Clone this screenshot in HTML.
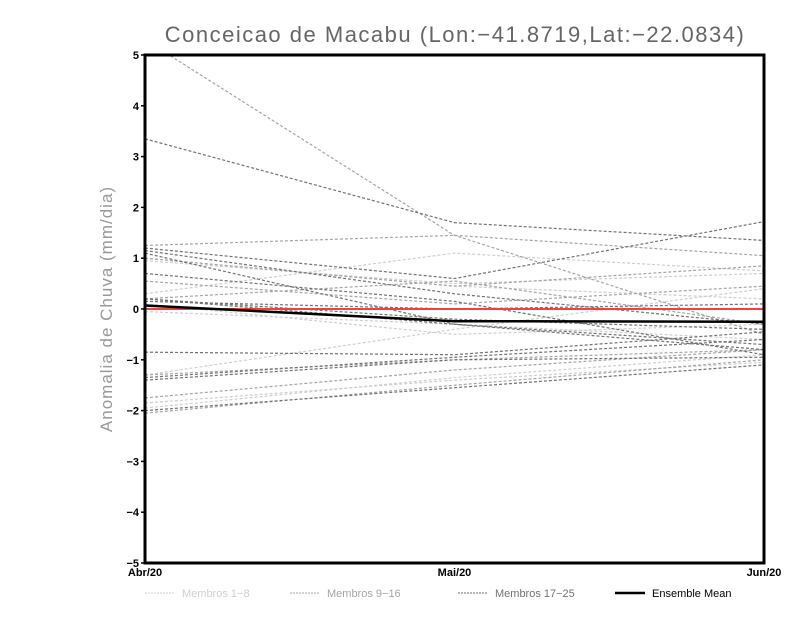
<!DOCTYPE html>
<html><head><meta charset="utf-8"><style>
body{margin:0;background:#fff;width:800px;height:618px;overflow:hidden}
svg{font-family:"Liberation Sans",sans-serif}
</style></head><body>
<svg id="c" width="800" height="618">
<text x="455" y="42" text-anchor="middle" font-size="22" fill="#666" letter-spacing="1.5">Conceicao de Macabu (Lon:−41.8719,Lat:−22.0834)</text>
<text transform="translate(112,309) rotate(-90)" text-anchor="middle" font-size="17" fill="#999" letter-spacing="1">Anomalia de Chuva (mm/dia)</text>
<g id="plot"></g>
</svg>
<script>
const categories=["Abr/20","Mai/20","Jun/20"];
const yTicks=[5,4,3,2,1,0,-1,-2,-3,-4,-5];
const membersLight=[[0.95,0.5,0.7],[0.3,1.1,0.75],[0.1,-0.5,-0.3],[-1.3,-0.4,0.4],[-1.95,-1.35,-0.9],[1.0,0.45,0.2],[-1.85,-1.4,-1.05],[-0.05,-0.3,-0.6]];
const membersMid=[[5.3,1.45,-0.5],[1.25,1.45,1.05],[0.55,0.1,0.45],[-1.75,-1.2,-0.8],[-2.05,-1.5,-1.0],[0.2,0.55,-0.3],[-1.3,-1.0,-0.8],[1.0,0.45,0.85]];
const membersDark=[[3.35,1.7,1.35],[1.2,0.6,1.72],[1.15,0.3,-0.3],[1.1,-0.3,-0.8],[0.7,0.15,-0.9],[0.2,-0.2,-0.4],[0.15,0.0,0.1],[-0.85,-0.9,-0.45],[-1.35,-0.95,-0.6],[-1.4,-1.0,-0.95],[-2.0,-1.55,-1.1],[0.2,-0.3,-0.7]];
const ensembleMean=[0.07,-0.24,-0.25];
const X0=145,X1=764,Y0=55,Y1=563;
const xs=i=>X0+(X1-X0)*i/(categories.length-1);
const ys=v=>Y0+(5-v)*(Y1-Y0)/10;
const NS="http://www.w3.org/2000/svg",g=document.getElementById('plot');
function mk(t,a){const e=document.createElementNS(NS,t);for(const k in a)e.setAttribute(k,a[k]);g.appendChild(e);return e;}
const clip=mk('clipPath',{id:'cp'});const r=document.createElementNS(NS,'rect');r.setAttribute('x',X0);r.setAttribute('y',Y0);r.setAttribute('width',X1-X0);r.setAttribute('height',Y1-Y0);clip.appendChild(r);
function series(arr,color,name){arr.forEach((s,j)=>{const p=mk('polyline',{points:s.map((v,i)=>xs(i)+','+ys(v)).join(' '),fill:'none',stroke:color,'stroke-width':1.2,'stroke-dasharray':'3,2','clip-path':'url(#cp)'});

});}
series(membersLight,'#cfcfcf','member-light');
series(membersMid,'#a5a5a5','member-mid');
series(membersDark,'#727272','member-dark');
let z=mk('line',{x1:X0,x2:X1,y1:ys(0),y2:ys(0),stroke:'#f04040','stroke-width':2});


let m=mk('polyline',{points:ensembleMean.map((v,i)=>xs(i)+','+ys(v)).join(' '),fill:'none',stroke:'#000','stroke-width':2.5});


let f=mk('rect',{x:X0,y:Y0,width:X1-X0,height:Y1-Y0,fill:'none',stroke:'#000','stroke-width':3});


yTicks.forEach(v=>{mk('line',{x1:X0-4,x2:X0,y1:ys(v),y2:ys(v),stroke:'#000','stroke-width':1.5});
const t=mk('text',{x:X0-6,y:ys(v)+4,'text-anchor':'end','font-size':11,'font-weight':'bold'});t.textContent=v<0?'−'+(-v):v;

});
categories.forEach((c,i)=>{const t=mk('text',{x:xs(i),y:Y1+13,'text-anchor':'middle','font-size':11,'font-weight':'bold'});t.textContent=c;

});
const leg=[['Membros 1−8','#cfcfcf',145,false],['Membros 9−16','#a5a5a5',290,false],['Membros 17−25','#727272',458,false],['Ensemble Mean','#000',615,true]];
leg.forEach(l=>{const ln=mk('line',{x1:l[2],x2:l[2]+30,y1:593,y2:593,stroke:l[1],'stroke-width':l[3]?2.5:1,'stroke-dasharray':l[3]?'none':'2,1'});


const t=mk('text',{x:l[2]+37,y:597,'font-size':11,fill:l[3]?'#000':l[1]});t.textContent=l[0];

});
</script>
</body></html>
